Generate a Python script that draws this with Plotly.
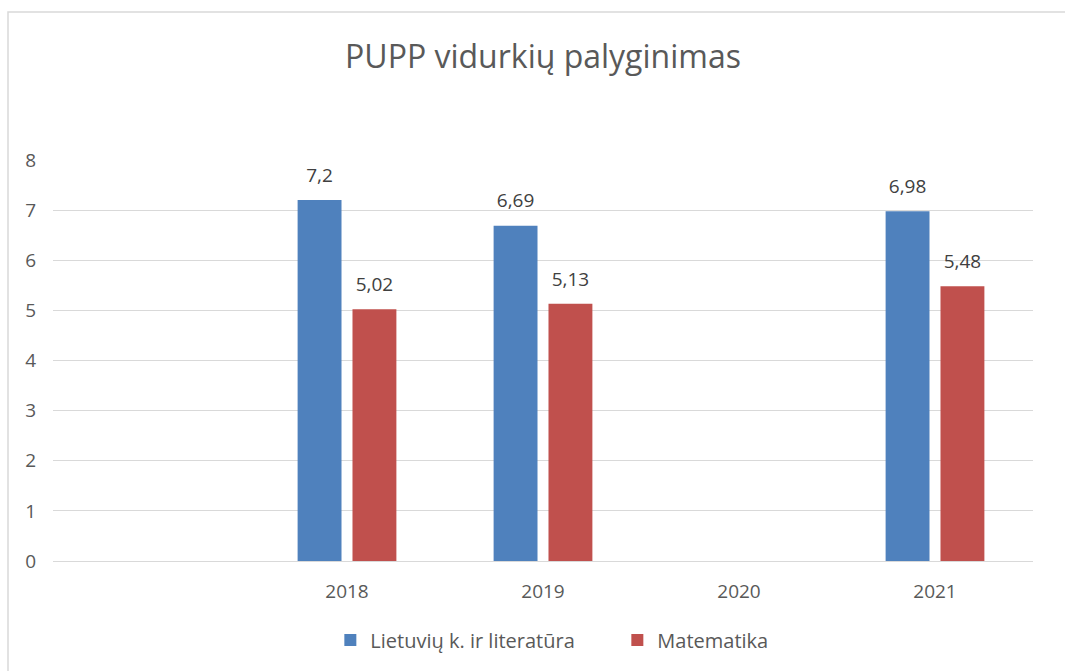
import plotly.graph_objects as go

years = [2018, 2019, 2020, 2021]
tick_labels = ["2018", "2019", "2020", "2021"]
lit = [7.2, 6.69, None, 6.98]
mat = [5.02, 5.13, None, 5.48]
series_names = ["Lietuvių k. ir literatūra", "Matematika"]
colors = ["#4f81bd", "#c0504d"]

FONT = "Open Sans"

fig = go.Figure()
for name, vals, col in zip(series_names, [lit, mat], colors):
    fig.add_trace(go.Bar(
        x=years, y=vals, name=name,
        marker=dict(color=col, line=dict(width=0)),
    ))
for name, vals in zip(series_names, [lit, mat]):
    fig.add_trace(go.Scatter(
        x=years, y=vals, mode="markers+text", showlegend=False,
        marker=dict(size=20, opacity=0),
        texttemplate="%{y}", textposition="top center",
        textfont=dict(family=FONT, size=19, color="#404040"),
        cliponaxis=False, hoverinfo="skip",
    ))

fig.update_layout(
    width=1065, height=671,
    margin=dict(l=53, r=32, t=160, b=110),
    paper_bgcolor="white", plot_bgcolor="white",
    separators=",.",
    barmode="group", bargap=0.44, bargroupgap=0.2,
    scattermode="group", scattergap=0.44,
    title=dict(text="PUPP vidurkių palyginimas", xref="paper", x=0.5, xanchor="center",
               y=1 - 57 / 671, yanchor="middle",
               font=dict(family=FONT, size=32, color="#595959")),
    showlegend=True,
    legend=dict(orientation="h", x=0.283, xanchor="left", y=-0.197, yanchor="middle",
                font=dict(family=FONT, size=20, color="#595959"),
                itemwidth=30, entrywidth=242, traceorder="normal"),
    shapes=[dict(type="rect", xref="paper", yref="paper",
                 x0=-45 / 980, x1=1.04, y0=-0.3, y1=(561 - 12) / 401,
                 line=dict(color="#d9d9d9", width=1.5), layer="below")],
)
fig.update_xaxes(range=[2016.5, 2021.5], tickvals=years, ticktext=tick_labels,
                 showgrid=False, showline=False, zeroline=False, ticks="",
                 tickfont=dict(family=FONT, size=19, color="#595959"),
                 ticklabelstandoff=17)
fig.update_yaxes(range=[0, 8], dtick=1, showgrid=True, gridcolor="#d9d9d9", gridwidth=1,
                 zeroline=True, zerolinecolor="#d9d9d9", zerolinewidth=1,
                 showline=False, ticks="",
                 tickfont=dict(family=FONT, size=19, color="#595959"),
                 ticklabelstandoff=16)

fig.write_html("out.html", config={"displayModeBar": False},
               post_script="document.body.style.margin='0px';")
